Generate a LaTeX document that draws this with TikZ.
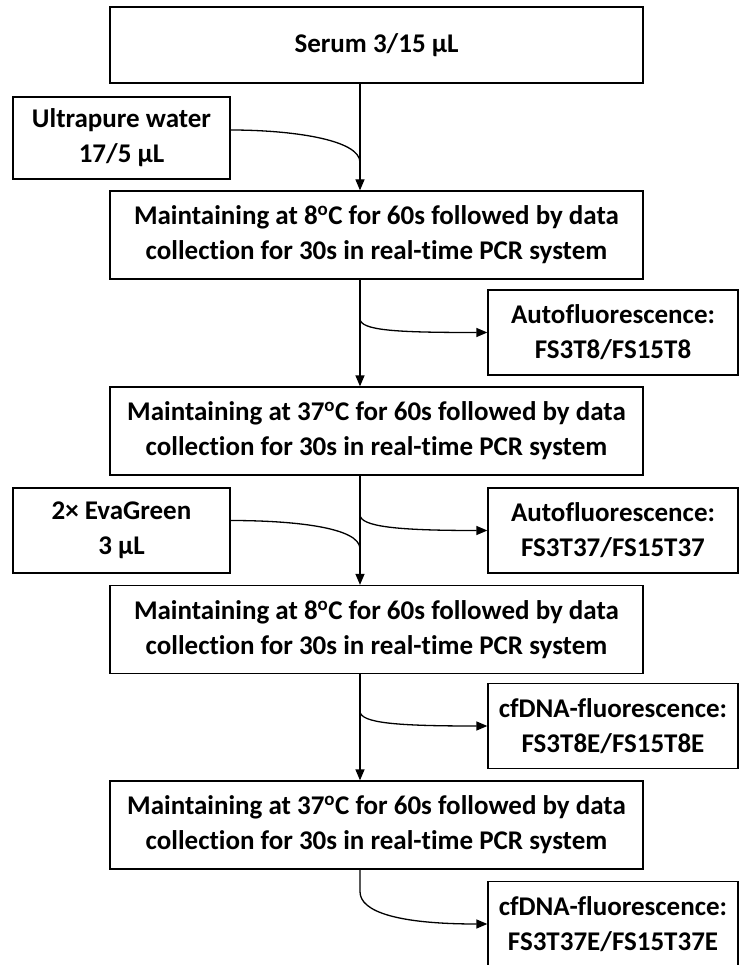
\documentclass[tikz,border=0pt]{standalone}
\usepackage{fontspec}
\setmainfont{Carlito}[Ligatures=NoCommon]
\usepackage{tikz}
\usetikzlibrary{arrows.meta, calc}
\tikzset{
  main box/.style={
    draw,
    line width=1.3pt,
    minimum width=533pt,
    minimum height=88pt,
    align=center,
    font=\fontsize{27}{35}\selectfont\bfseries,
    inner sep=0pt
  },
  side box/.style={
    draw,
    line width=1.3pt,
    minimum width=250pt,
    minimum height=85pt,
    align=center,
    font=\fontsize{27}{35}\selectfont\bfseries,
    inner sep=0pt
  },
  add box/.style={
    side box,
    minimum width=217pt
  },
  flow arrow/.style={
    -{Triangle[length=11pt, width=9pt]},
    line width=1.3pt
  },
  flow line/.style={line width=1.3pt}
}
\newcommand{\degC}{\textsuperscript{o}C}

\begin{document}
\begin{tikzpicture}[x=1pt, y=-1pt]
  \useasboundingbox (0,0) rectangle (742,965);
  \coordinate (spine) at (360,0);

  % Main steps
  \node[main box, minimum height=76pt] (serum) at (376.5,45) {Serum 3/15 µL};
  \node[main box] (step1) at (376.5,235) {Maintaining at 8\degC{} for 60s followed by data\\collection for 30s in real-time PCR system};
  \node[main box] (step2) at (376.5,431) {Maintaining at 37\degC{} for 60s followed by data\\collection for 30s in real-time PCR system};
  \node[main box] (step3) at (376.5,629.5) {Maintaining at 8\degC{} for 60s followed by data\\collection for 30s in real-time PCR system};
  \node[main box] (step4) at (376.5,825) {Maintaining at 37\degC{} for 60s followed by data\\collection for 30s in real-time PCR system};

  % Additions
  \node[add box, minimum height=82pt] (water) at (121.5,138) {Ultrapure water\\17/5 µL};
  \node[add box] (eva) at (121.5,530.5) {2× EvaGreen\\3 µL};

  % Readouts
  \node[side box] (af1) at (613,332.5) {Autofluorescence:\\FS3T8/FS15T8};
  \node[side box] (af2) at (613,530.5) {Autofluorescence:\\FS3T37/FS15T37};
  \node[side box] (cf1) at (613,726) {cfDNA-fluorescence:\\FS3T8E/FS15T8E};
  \node[side box] (cf2) at (613,924) {cfDNA-fluorescence:\\FS3T37E/FS15T37E};

  % Spine
  \draw[flow arrow] (serum.south -| spine) -- (step1.north -| spine);
  \draw[flow arrow] (step1.south -| spine) -- (step2.north -| spine);
  \draw[flow arrow] (step2.south -| spine) -- (step3.north -| spine);
  \draw[flow arrow] (step3.south -| spine) -- (step4.north -| spine);

  % Merging in
  \draw[flow line] ([yshift=8pt]water.east) .. controls +(60,0) and +(0,-23) .. ($(step1.north -| spine)+(0,-28)$);
  \draw[flow line] ([yshift=10pt]eva.east) .. controls +(60,0) and +(0,-22) .. ($(step3.north -| spine)+(0,-36)$);

  % Branching out
  \draw[flow arrow] ($(step1.south -| spine)+(0,39)$) .. controls +(0,12) and +(-90,0) .. (af1.west);
  \draw[flow arrow] ($(step2.south -| spine)+(0,39)$) .. controls +(0,12) and +(-90,0) .. (af2.west);
  \draw[flow arrow] ($(step3.south -| spine)+(0,37)$) .. controls +(0,12) and +(-90,0) .. (cf1.west);
  \draw[flow arrow] (step4.south -| spine) -- ++(0,22) .. controls +(0,20) and +(-90,0) .. (cf2.west);
\end{tikzpicture}
\end{document}
